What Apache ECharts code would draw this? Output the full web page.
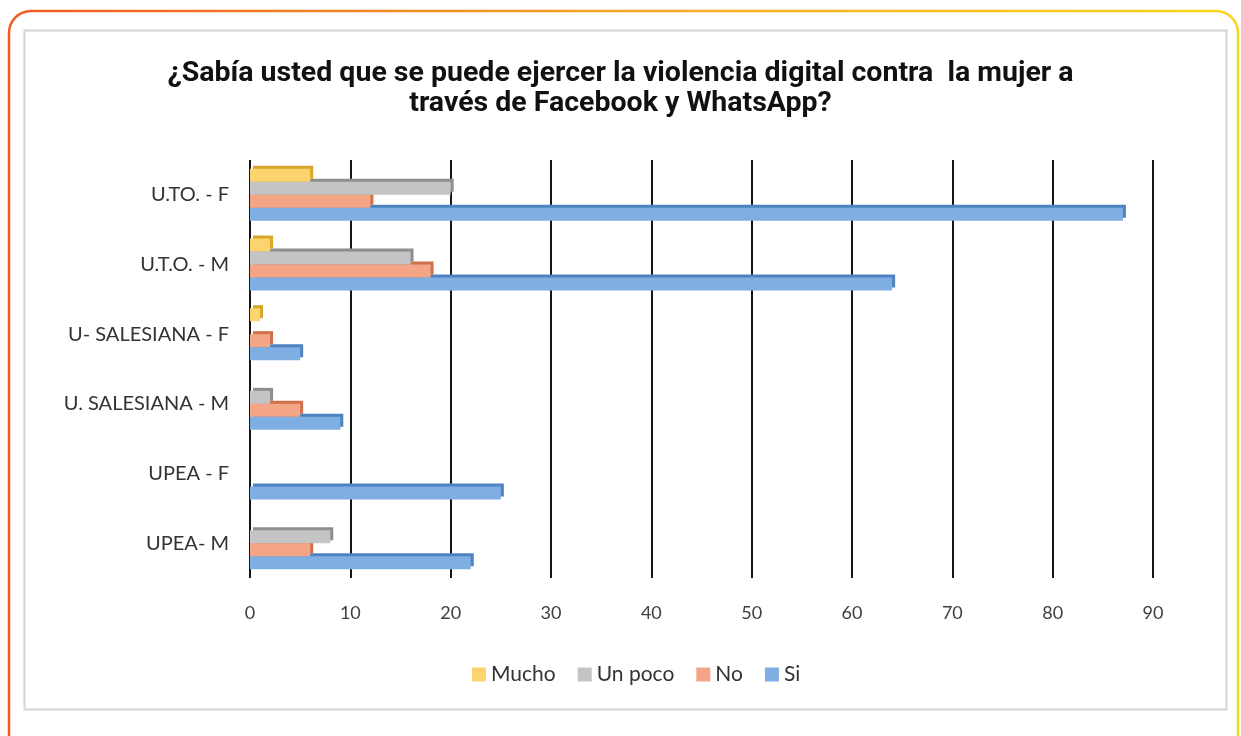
<!DOCTYPE html>
<html>
<head>
<meta charset="utf-8">
<title>Violencia digital</title>
<script src="https://cdn.jsdelivr.net/npm/echarts@6/dist/echarts.min.js"></script>
<style>
html, body { margin: 0; padding: 0; background: #fff; }
#main { width: 1241px; height: 736px; }
</style>
</head>
<body>
<div id="main"></div>
<script>
// datos
var categories = ['U.TO. - F', 'U.T.O. - M', 'U- SALESIANA - F', 'U. SALESIANA - M', 'UPEA - F', 'UPEA- M'];
var mucho  = [6, 2, 1, 0, 0, 0];
var unPoco = [20, 16, 0, 2, 0, 8];
var no     = [12, 18, 2, 5, 0, 6];
var si     = [87, 64, 5, 9, 25, 22];
var xMax = 90;
var xStep = 10;

var chart = echarts.init(document.getElementById('main'));

function barSerie(name, data, fill, edge, z) {
  return {
    name: name,
    type: 'bar',
    data: data,
    z: z,
    barWidth: 13,
    barGap: '0%',
    itemStyle: {
      color: fill,
      shadowColor: edge,
      shadowBlur: 0,
      shadowOffsetX: 3,
      shadowOffsetY: -3
    }
  };
}

var option = {
  animation: false,
  title: {
    text: '¿Sabía usted que se puede ejercer la violencia digital contra  la mujer a\ntravés de Facebook y WhatsApp?',
    left: 'center',
    top: 54,
    textStyle: {
      fontFamily: 'Roboto, sans-serif',
      fontWeight: 'bold',
      fontSize: 28.5,
      lineHeight: 30,
      color: '#111'
    }
  },
  legend: {
    data: ['Mucho', 'Un poco', 'No', 'Si'],
    left: 467,
    top: 659,
    icon: 'rect',
    itemWidth: 14,
    itemHeight: 14,
    itemGap: 22,
    textStyle: { fontFamily: 'Lato, sans-serif', fontSize: 21, color: '#333' }
  },
  grid: {
    left: 250,
    right: 88,
    top: 160,
    height: 418
  },
  xAxis: {
    type: 'value',
    min: 0,
    max: xMax,
    interval: xStep,
    axisLine: { show: false },
    axisTick: { show: false },
    axisLabel: { margin: 26, fontFamily: 'Lato, sans-serif', fontSize: 18, color: '#404040' },
    splitLine: { show: true, lineStyle: { color: '#161616', width: 2 } }
  },
  yAxis: {
    type: 'category',
    data: categories,
    inverse: true,
    axisLine: { show: false },
    axisTick: { show: false },
    axisLabel: { margin: 21, fontFamily: 'Lato, sans-serif', fontSize: 20, color: '#333' }
  },
  series: [
    barSerie('Mucho', mucho, '#fbd46e', '#d9a52a', 6),
    barSerie('Un poco', unPoco, '#c4c4c4', '#8e8e8e', 5),
    barSerie('No', no, '#f4a585', '#d0704c', 4),
    barSerie('Si', si, '#7eaee2', '#4f82c0', 3)
  ],
  graphic: {
    elements: [
      {
        type: 'rect',
        z: -10,
        shape: { x: 9, y: 11, width: 1229, height: 745, r: 22 },
        style: {
          fill: 'none',
          lineWidth: 2.5,
          stroke: new echarts.graphic.LinearGradient(0, 0, 1, 0, [
            { offset: 0, color: '#f15a24' },
            { offset: 0.5, color: '#f6a623' },
            { offset: 1, color: '#f9d61c' }
          ])
        }
      },
      {
        type: 'rect',
        z: -10,
        shape: { x: 24.5, y: 30.5, width: 1202, height: 679 },
        style: { fill: 'none', stroke: '#d4d4d4', lineWidth: 2 }
      }
    ]
  }
};

chart.setOption(option);
</script>
</body>
</html>
